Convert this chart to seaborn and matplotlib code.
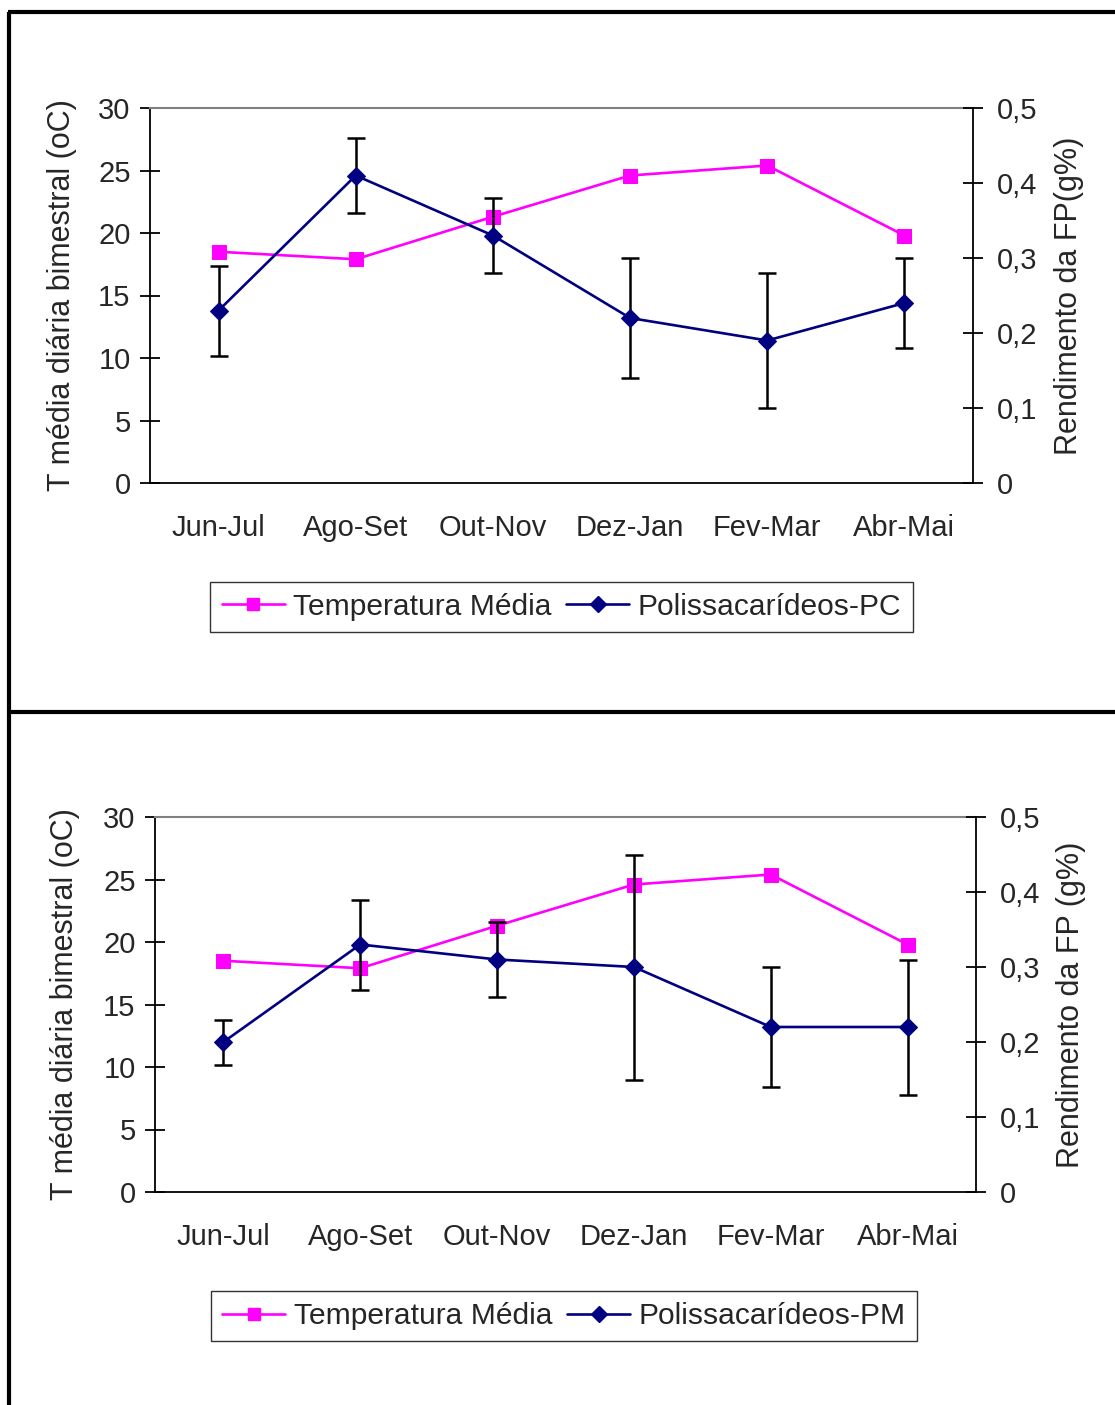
import numpy as np
import matplotlib
matplotlib.use("Agg")
import matplotlib.pyplot as plt
from matplotlib.lines import Line2D
from matplotlib.ticker import FixedLocator, NullFormatter, FuncFormatter
import seaborn as sns

# ---------------- data ----------------
categories = ["Jun-Jul", "Ago-Set", "Out-Nov", "Dez-Jan", "Fev-Mar", "Abr-Mai"]
temperatura = [18.5, 17.9, 21.3, 24.6, 25.4, 19.8]

pc_values = [0.23, 0.41, 0.33, 0.22, 0.19, 0.24]
pc_err = [0.06, 0.05, 0.05, 0.08, 0.09, 0.06]

pm_values = [0.20, 0.33, 0.31, 0.30, 0.22, 0.22]
pm_err = [0.03, 0.06, 0.05, 0.15, 0.08, 0.09]

temp_label = "Temperatura Média"
left_label = "T média diária bimestral (oC)"
left_ticks = [0, 5, 10, 15, 20, 25, 30]
right_ticks = [0, 0.1, 0.2, 0.3, 0.4, 0.5]

panels = [
    dict(values=pc_values, err=pc_err, name="Polissacarídeos-PC",
         right_label="Rendimento da FP(g%)",
         rect=[150 / 1115, 1 - 483 / 1405, 823 / 1115, 375 / 1405],
         leg=(561.5 / 1115, 1 - 607 / 1405),
         lx=(62 - 150) / 823, rx=(1069 - 150) / 823),
    dict(values=pm_values, err=pm_err, name="Polissacarídeos-PM",
         right_label="Rendimento da FP (g%)",
         rect=[155 / 1115, 1 - 1192 / 1405, 821 / 1115, 375 / 1405],
         leg=(564 / 1115, 1 - 1316 / 1405),
         lx=(65 - 155) / 821, rx=(1071 - 155) / 821),
]

MAGENTA = "#FF00FF"
NAVY = "#000080"
FS = 21
LFS = 22
LEGFS = 21.6

sns.set_style("white")
plt.rcParams["font.family"] = ["Liberation Sans", "DejaVu Sans"]

fig = plt.figure(figsize=(11.15, 14.05), dpi=100)

# outer frame lines
for (xs, ys) in [((0.007, 1.0), (1 - 12 / 1405, 1 - 12 / 1405)),
                 ((0.008, 0.008), (1 - 12 / 1405, 0.0)),
                 ((0.007, 1.0), (1 - 712 / 1405, 1 - 712 / 1405))]:
    fig.add_artist(Line2D(xs, ys, color="black", lw=3.0,
                          transform=fig.transFigure, solid_capstyle="butt"))

n = len(categories)
for p in panels:
    ax1 = fig.add_axes(p["rect"])
    ax2 = ax1.twinx()

    sns.lineplot(x=categories, y=temperatura, ax=ax1, color=MAGENTA,
                 marker="s", markersize=10.5, markeredgecolor=MAGENTA,
                 linewidth=1.9, sort=False, label=temp_label, zorder=3)

    ax2.errorbar(categories, p["values"], yerr=p["err"], fmt="none",
                 ecolor="black", elinewidth=1.8, capsize=6.5, capthick=1.8,
                 zorder=2)
    sns.lineplot(x=categories, y=p["values"], ax=ax2, color=NAVY,
                 marker="D", markersize=9.5, markeredgecolor=NAVY,
                 linewidth=1.9, sort=False, label=p["name"], zorder=3)

    for a in (ax1, ax2):
        leg = a.get_legend()
        if leg is not None:
            leg.remove()
        a.set_xlim(-0.5, n - 0.5)
        a.set_xlabel("")
        a.grid(False)
        a.set_facecolor("none")

    ax1.set_ylim(0, 30)
    ax2.set_ylim(0, 0.5)
    ax1.yaxis.set_major_locator(FixedLocator(left_ticks))
    ax2.yaxis.set_major_locator(FixedLocator(right_ticks))
    ax2.yaxis.set_major_formatter(
        FuncFormatter(lambda v, pos: "0" if abs(v) < 1e-9 else f"{v:.1f}".replace(".", ",")))
    ax1.yaxis.set_major_formatter(FuncFormatter(lambda v, pos: f"{v:.0f}"))

    # x ticks at category boundaries, labels centered
    ax1.xaxis.set_major_locator(FixedLocator(np.arange(-0.5, n, 1.0)))
    ax1.xaxis.set_major_formatter(NullFormatter())
    ax1.xaxis.set_minor_locator(FixedLocator(np.arange(n)))
    ax1.set_xticks(np.arange(n), categories, minor=True)
    ax1.tick_params(axis="x", which="minor", length=0, pad=22, labelsize=FS)
    ax1.tick_params(axis="x", which="major", direction="inout", length=14,
                    width=1.3, color="black")
    ax1.tick_params(axis="y", direction="inout", length=14, width=1.3,
                    pad=7, labelsize=FS, color="black", left=True)
    ax2.tick_params(axis="y", direction="inout", length=14, width=1.3,
                    pad=10, labelsize=FS, color="black", right=True)
    ax2.tick_params(axis="x", which="both", bottom=False, labelbottom=False)

    for s in ("left", "bottom"):
        ax1.spines[s].set_color("black")
        ax1.spines[s].set_linewidth(1.3)
    ax1.spines["top"].set_color("#808080")
    ax1.spines["top"].set_linewidth(1.5)
    ax1.spines["right"].set_visible(False)
    ax2.spines["right"].set_color("black")
    ax2.spines["right"].set_linewidth(1.3)
    for s in ("left", "bottom", "top"):
        ax2.spines[s].set_visible(False)

    ax1.set_ylabel(left_label, fontsize=LFS, va="center")
    ax1.yaxis.set_label_coords(p["lx"], 0.5)
    ax2.set_ylabel(p["right_label"], fontsize=LFS, va="center")
    ax2.yaxis.set_label_coords(p["rx"], 0.5)

    handles = [
        Line2D([], [], color=MAGENTA, marker="s", markersize=9, lw=1.9,
               markeredgecolor=MAGENTA),
        Line2D([], [], color=NAVY, marker="D", markersize=8, lw=1.9,
               markeredgecolor=NAVY),
    ]
    lg = fig.legend(handles, [temp_label, p["name"]], loc="center",
                    bbox_to_anchor=p["leg"], ncol=2, fontsize=LEGFS,
                    frameon=True, fancybox=False, shadow=False,
                    handlelength=2.1, handletextpad=0.28, columnspacing=0.5,
                    borderpad=0.38, borderaxespad=0.0, handleheight=0.7)
    lg.get_frame().set_edgecolor("black")
    lg.get_frame().set_linewidth(1.0)

fig.savefig("out.png", dpi=100, facecolor="white")
